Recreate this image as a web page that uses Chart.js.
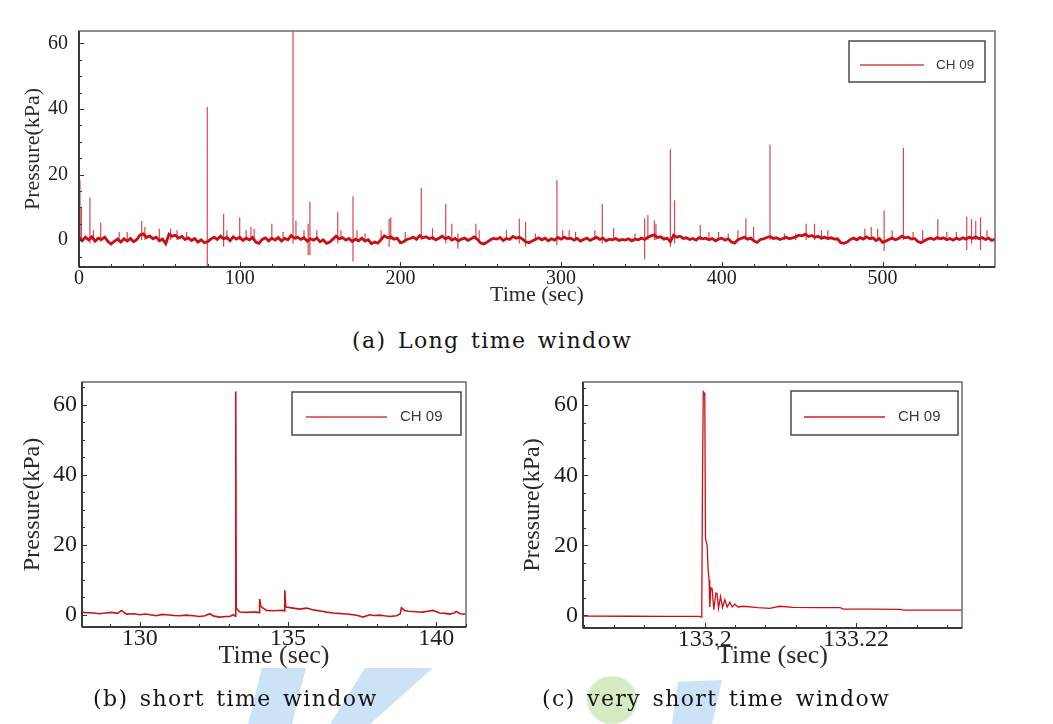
<!DOCTYPE html>
<html>
<head>
<meta charset="utf-8">
<script src="https://cdn.jsdelivr.net/npm/chart.js@4.4.1/dist/chart.umd.min.js"></script>
<style>
  body { margin: 0; background: #fff; width: 1053px; height: 724px; position: relative; overflow: hidden; }
  canvas { position: absolute; }
  .cap { position: absolute; font-family: "DejaVu Serif", serif; font-size: 22px; line-height: 30px; color: #151515; white-space: nowrap; letter-spacing: 1.4px; word-spacing: 3px; z-index: 2; }
  .wm { position: absolute; z-index: 1; }
</style>
</head>
<body>
<canvas id="chartLong" width="1053" height="320" style="left:0;top:0"></canvas>
<canvas id="chartShort" width="480" height="318" style="left:0;top:362px"></canvas>
<canvas id="chartVeryShort" width="480" height="318" style="left:500px;top:362px"></canvas>

<div class="wm" style="left:248px;top:668px;width:58px;height:56px;background:rgba(140,190,238,0.45);clip-path:polygon(24% 0,100% 0,76% 100%,0 100%)"></div>
<div class="wm" style="left:330px;top:668px;width:103px;height:56px;background:rgba(140,190,238,0.45);clip-path:polygon(34% 0,100% 0,39% 100%,0 100%)"></div>
<div class="wm" style="left:587px;top:676px;width:50px;height:48px;border-radius:50%;background:rgba(180,218,145,0.55)"></div>
<div class="wm" style="left:672px;top:680px;width:50px;height:44px;background:rgba(140,190,238,0.45);clip-path:polygon(12% 4%,100% 0,80% 100%,0 100%)"></div>

<div class="cap" style="left:352px;top:326px">(a) Long time window</div>
<div class="cap" style="left:93px;top:684px">(b) short time window</div>
<div class="cap" style="left:542px;top:684px">(c) very short time window</div>

<script>
// ---- (a) long time window: baseline sampled every 2 s from 0 s ----
const LONG_STEP = 2;
const longBaseline = [
  0.8, -0.2, 0.9, 0.1, 1.0, -0.3, 0.6, 0.2, 0.9, -0.4,
  -1.2, -0.4, 0.3, -0.6, 0.4, -0.3, 0.5, -0.5, 0.2, 1.6,
  1.9, 0.8, 1.3, 0.4, 0.9, -0.2, 0.3, -1.1, 1.8, 1.2,
  1.5, 0.6, 1.1, 0.2, 0.7, -0.1, 0.5, -0.6, 0.1, -0.8,
  -0.5, 0.3, 0.9, 0.2, 1.2, 0.4, 0.8, -0.2, 1.0, 0.3,
  0.9, -0.1, 0.6, 0.1, 0.8, -0.6, -1.0, 0.2, 0.7, -0.2,
  0.6, 0.0, 0.8, -0.3, 0.5, 0.1, 1.4, 0.6, 0.9, 0.2,
  0.7, -0.3, 0.4, 0.0, 0.6, -0.5, 0.1, -1.0, -0.6, 0.3,
  1.2, 0.4, 0.8, 0.0, 0.5, -0.4, 0.3, -0.2, 0.6, -0.3,
  0.1, -1.1, -0.6, -0.9, 0.2, 1.3, 0.7, 1.0, 0.3, 0.6,
  -0.8, -0.5, 0.2, 0.5, 0.9, 0.2, 1.4, 0.7, 1.0, 0.4,
  0.8, 0.1, 0.6, 1.2, 0.4, 0.9, 0.0, 0.5, -0.2, 0.3,
  0.6, -0.1, 0.4, 1.0, 0.2, -0.9, -1.2, -0.6, 0.1, 0.5,
  0.3, 0.8, -0.1, 0.5, 0.2, 1.1, 0.6, 0.9, 0.3, -0.5,
  -0.8, -0.3, 0.2, 0.7, 0.1, 0.6, -0.2, 0.4, 0.0, 0.8,
  0.3, 0.9, 0.4, 0.6, 0.0, 0.5, -0.3, 0.2, 0.6, -0.1,
  0.4, 0.9, 0.2, 0.6, -0.2, 0.3, 0.1, 0.5, -0.1, 0.2,
  0.0, 0.4, -0.2, 0.3, 0.1, 0.6, 0.2, 0.9, 1.3, 1.6,
  0.8, 1.0, 0.3, 0.6, -0.5, 1.5, 0.9, 1.2, 0.5, 0.7,
  0.2, 0.5, 0.0, 0.8, 0.4, 0.6, 0.1, 0.5, -0.2, 0.3,
  0.6, 0.0, 0.4, -0.6, -0.9, 0.1, 0.5, 0.9, 0.3, 0.6,
  -0.3, -0.7, 0.2, 0.4, 0.8, 1.1, 0.5, 0.7, 0.2, 0.5,
  0.9, 0.4, 0.7, 1.0, 1.5, 1.3, 1.8, 1.1, 1.4, 0.9,
  1.2, 0.6, 0.9, 0.5, 0.7, 0.3, 0.4, -0.8, -1.0, -0.6,
  0.2, 0.6, 0.1, 0.8, 0.3, 1.0, 0.4, 0.7, -0.1, 0.5,
  -0.7, -0.3, 0.2, 0.6, 0.1, 0.5, 1.2, 0.7, 0.9, 0.3,
  0.5, -0.4, -0.8, -0.2, 0.3, 0.6, 0.2, 0.8, 0.4, 0.7,
  0.1, 0.5, 0.0, 0.6, 0.2, 0.7, 0.3, 0.9, 0.5, 1.0,
  0.4, 0.8, 0.2, 0.6, -0.1, 0.3
];
// spikes: time (s), lowest value, highest value (kPa)
const spikeTimes = [0.6, 1.5, 6.8, 9, 13.5, 25, 30, 39, 41, 50, 57, 61, 67, 79.8, 90, 92, 100, 104, 107, 109, 120, 127,
  133.2, 135, 140, 142.6, 143.7, 148, 161, 163, 170.5, 173, 178, 188, 193, 194, 203, 213, 220, 228.2, 232, 235.8,
  247, 249, 266, 274, 277.9, 284, 297.4, 301, 305, 309, 321, 325.6, 332.7, 346, 352, 354, 358, 359, 368, 370.6,
  386.6, 392, 398, 404, 410, 415, 419.8, 430, 439, 446, 452.5, 457.7, 462, 466, 489, 493, 497, 501, 506, 513,
  519, 525, 534.4, 540, 546, 552.4, 555.4, 558, 561, 565];
const spikeLows = [0, 0, -1, 0, -0.5, 0, 0, 0, 0, 0, 0, 0, 0, -8.2, -2, 0, 0, 0, 0, 0, 0, 0,
  -1, 0, 0, -4.6, -4.6, 0, -1, 0, -6.5, 0, 0, 0, -2, 0, 0, 0, 0, -1, 0, -2.6,
  0, 0, 0, -1, -2, 0, -1.6, 0, 0, 0, 0, -1, 0, 0, -5.8, 0, 0, 0, -2, -1,
  0, 0, 0, 0, 0, 0, 0, 0, 0, 0, 0, 0, 0, 0, 0, 0, 0, -3.3, 0, 0,
  0, 0, 0, 0, 0, -3, -1, 0, -3, 0];
const spikeHighs = [18.3, 10, 13, 3, 5.3, 2.5, 2.5, 5.8, 4, 3.5, 3.5, 3, 2.5, 40.6, 8, 3, 7, 3, 4, 3.5, 5, 2.5,
  64, 6, 3, 5, 11.7, 3, 8.5, 3, 13.4, 3, 2, 3, 6.5, 7, 2.5, 16, 3.6, 11, 5, 2,
  5, 3, 3, 6.5, 5.5, 2, 18.3, 3, 3, 2.5, 3, 11, 3.6, 2, 6.6, 7.7, 6, 5, 27.7, 12.2,
  4.6, 2.5, 2.5, 2, 3, 6.7, 4, 29.2, 2, 2, 5, 5, 3, 3, 3.5, 4, 3.5, 9, 3, 28.1,
  2.5, 3, 6.4, 2.5, 2.5, 7.1, 6.4, 5.8, 7, 3];

// ---- (b) short time window ----
const shortTimes = [128.0, 128.2, 128.43, 128.65, 128.85, 129.05, 129.25, 129.38, 129.55, 129.8,
  130.0, 130.2, 130.34, 130.56, 130.75, 130.9, 131.15, 131.35, 131.57, 131.8,
  132.02, 132.2, 132.36, 132.5, 132.7, 132.9, 133.03, 133.15, 133.22, 133.235,
  133.25, 133.28, 133.37, 133.6, 133.8, 133.93, 134.03, 134.04, 134.08, 134.16,
  134.27, 134.49, 134.65, 134.83, 134.88, 134.89, 134.92, 134.94, 135.17, 135.39,
  135.62, 135.8, 135.96, 136.15, 136.29, 136.52, 136.7, 136.85, 137.0, 137.19,
  137.35, 137.53, 137.75, 137.9, 138.09, 138.25, 138.43, 138.65, 138.78, 138.82,
  138.93, 139.05, 139.21, 139.4, 139.55, 139.7, 139.89, 140.11, 140.3, 140.45,
  140.6, 140.67, 140.8, 140.98];
const shortValues = [0.76, 0.6, 0.48, 0.29, 0.5, 0.67, 0.4, 1.24, 0.19, 0.3,
  0.0, 0.2, 0.0, -0.29, 0.1, 0.0, -0.2, -0.29, -0.1, -0.3,
  -0.48, -0.3, 0.3, -0.4, -0.67, -0.5, -0.48, 0.0, -0.4, 63.8,
  2.0, 1.62, 0.76, 0.67, 0.8, 0.76, 0.6, 4.5, 2.4, 1.9,
  1.24, 1.14, 1.2, 1.24, 1.1, 7.0, 2.4, 2.19, 1.9, 1.62,
  1.9, 1.5, 1.24, 1.0, 0.76, 0.48, 0.4, 0.29, 0.2, 0.0,
  -0.2, -0.67, 0.0, -0.2, -0.1, -0.3, -0.48, -0.29, 0.2, 2.0,
  1.24, 1.0, 0.95, 0.8, 0.76, 1.0, 1.24, 0.48, 0.4, 0.19,
  0.5, 0.95, 0.3, 0.19];

// ---- (c) very short time window ----
const vShortTimes = [133.184, 133.19, 133.195, 133.1993, 133.1995, 133.1996, 133.1997, 133.1998, 133.1999, 133.2,
  133.20009, 133.20031, 133.20044, 133.20057, 133.20066, 133.2008, 133.20097, 133.20119, 133.20146, 133.20163,
  133.20181, 133.20208, 133.20234, 133.20265, 133.20296, 133.20331, 133.20362, 133.20397, 133.20441, 133.20508,
  133.207, 133.2086, 133.2099, 133.2117, 133.215, 133.2179, 133.2183, 133.222, 133.2258, 133.2263, 133.234];
const vShortValues = [-0.2, -0.25, -0.3, -0.3, -0.5, 0.5, 40, 63.8, 63.5, 62.5,
  22, 20, 13, 10, 2.4, 7.9, 7.6, 1.6, 6.4, 6.2,
  2.0, 5.4, 2.2, 4.5, 2.4, 3.8, 2.4, 3.2, 2.4, 2.6,
  2.2, 2.0, 2.6, 2.3, 2.2, 2.2, 1.8, 1.8, 1.7, 1.5, 1.5];

const LABEL = "CH 09";
const SERIF = "'Liberation Serif', 'Times New Roman', serif";

// frame around plot area with inward major / minor ticks
const framePlugin = {
  id: "frame",
  afterDatasetsDraw(chart, args, o) {
    const { ctx, chartArea: a, scales } = chart;
    ctx.save();
    ctx.strokeStyle = "#6c6c6c";
    ctx.lineWidth = 1.5;
    ctx.strokeRect(a.left, a.top, a.right - a.left, a.bottom - a.top);
    ctx.strokeStyle = "#3a3a3a";
    ctx.lineWidth = 2;
    ctx.beginPath();
    ctx.moveTo(a.left, a.bottom);
    ctx.lineTo(a.right, a.bottom);
    ctx.moveTo(a.left, a.top);
    ctx.lineTo(a.left, a.bottom);
    ctx.stroke();

    ctx.lineWidth = 1;
    ctx.strokeStyle = "#333";
    const marks = (scale, step, len, horizontal) => {
      const start = Math.ceil(scale.min / step - 1e-6);
      for (let k = start; k * step <= scale.max + step * 1e-6; k++) {
        const p = Math.round(scale.getPixelForValue(k * step)) + 0.5;
        ctx.beginPath();
        if (horizontal) {
          ctx.moveTo(p, a.bottom);
          ctx.lineTo(p, a.bottom - len);
        } else {
          ctx.moveTo(a.left, p);
          ctx.lineTo(a.left + len, p);
        }
        ctx.stroke();
      }
    };
    marks(scales.x, o.xMinor, o.minorLen, true);
    marks(scales.x, o.xMajor, o.majorLen, true);
    marks(scales.y, o.yMinor, o.minorLen, false);
    marks(scales.y, o.yMajor, o.majorLen, false);
    ctx.restore();
  },
};

// legend box drawn inside the plot area, top right
const insideLegend = {
  id: "insideLegend",
  afterDraw(chart, args, o) {
    const { ctx, chartArea: a } = chart;
    const x0 = a.right - o.right - o.width;
    const y0 = a.top + o.top;
    ctx.save();
    ctx.strokeStyle = "#4a4a4a";
    ctx.lineWidth = 1.5;
    ctx.strokeRect(x0, y0, o.width, o.height);
    const cy = y0 + o.lineY;
    ctx.strokeStyle = o.lineColor;
    ctx.lineWidth = 1.5;
    ctx.beginPath();
    ctx.moveTo(x0 + o.lineStart, cy);
    ctx.lineTo(x0 + o.lineEnd, cy);
    ctx.stroke();
    ctx.fillStyle = "#3b3b3b";
    ctx.font = o.font;
    ctx.textBaseline = "middle";
    ctx.fillText(chart.data.datasets[0].label, x0 + o.textX, cy);
    ctx.restore();
  },
};

function axisOptions(c) {
  return {
    x: {
      type: "linear",
      min: c.xMin,
      max: c.xMax,
      grid: { display: false, drawTicks: false },
      border: { display: false },
      afterFit: (s) => { s.height = c.xHeight; },
      ticks: {
        stepSize: c.xMajor,
        includeBounds: false,
        maxRotation: 0,
        autoSkip: false,
        padding: c.xPad,
        color: "#1e1e1e",
        font: { family: SERIF, size: c.tickSize },
        callback: (v) => String(parseFloat(v.toFixed(4))),
      },
      title: { display: true, text: "Time (sec)", color: "#2a2a2a", font: { family: SERIF, size: c.xTitleSize }, padding: { top: 0, bottom: c.xTitlePad } },
    },
    y: {
      min: c.yMin,
      max: c.yMax,
      grid: { display: false, drawTicks: false },
      border: { display: false },
      afterFit: (s) => { s.width = c.yWidth; },
      ticks: {
        stepSize: 20,
        includeBounds: false,
        padding: c.yPad,
        color: "#1e1e1e",
        font: { family: SERIF, size: c.tickSize },
      },
      title: { display: true, text: "Pressure(kPa)", color: "#2a2a2a", font: { family: SERIF, size: c.yTitleSize }, padding: { top: c.yTitlePad, bottom: 0 } },
    },
  };
}

function renderPressureChart(canvasId, datasets, c) {
  const canvas = document.getElementById(canvasId);
  if (!canvas) {
    console.warn(`Canvas '${canvasId}' not found.`);
    return null;
  }
  return new Chart(canvas.getContext("2d"), {
    type: "line",
    data: { datasets },
    options: {
      responsive: false,
      animation: false,
      devicePixelRatio: 1,
      parsing: false,
      normalized: true,
      layout: { padding: { top: c.padTop, right: c.padRight, left: 0, bottom: 0 } },
      elements: { point: { radius: 0 }, line: { tension: 0 } },
      scales: axisOptions(c),
      plugins: {
        legend: { display: false },
        tooltip: { enabled: false },
        frame: { xMajor: c.xMajor, xMinor: c.xMinor, yMajor: 20, yMinor: 5, majorLen: 5, minorLen: 3 },
        insideLegend: c.legend,
      },
    },
    plugins: [framePlugin, insideLegend],
  });
}

// (a)
const longPoints = longBaseline.map((v, i) => ({ x: i * LONG_STEP, y: v }));
const spikePoints = [];
spikeTimes.forEach((t, i) => {
  spikePoints.push({ x: t, y: spikeLows[i] }, { x: t, y: spikeHighs[i] }, { x: t, y: null });
});
renderPressureChart("chartLong", [
  { label: LABEL, data: longPoints, borderColor: "rgb(200,16,20)", borderWidth: 2.8, spanGaps: false },
  { label: "spikes", data: spikePoints, borderColor: "rgba(205,40,50,0.85)", borderWidth: 1.2, spanGaps: false },
], {
  xMin: 0, xMax: 570, xMajor: 100, xMinor: 20, yMin: -8.2, yMax: 63.8,
  padTop: 31, padRight: 58, yWidth: 79, xHeight: 53,
  tickSize: 20, xTitleSize: 22, yTitleSize: 22, xPad: 0, yPad: 11, xTitlePad: 12, yTitlePad: 20,
  legend: { right: 10, top: 10, width: 136, height: 41, lineY: 24, lineStart: 11, lineEnd: 75, textX: 87,
    lineColor: "rgb(205,70,80)", font: "13.5px 'Liberation Sans', Arial, sans-serif" },
});

// (b)
renderPressureChart("chartShort", [
  { label: LABEL, data: shortTimes.map((t, i) => ({ x: t, y: shortValues[i] })), borderColor: "rgb(200,20,28)", borderWidth: 1.6 },
], {
  xMin: 128.05, xMax: 141, xMajor: 5, xMinor: 1, yMin: -3.5, yMax: 66.5,
  padTop: 20, padRight: 14, yWidth: 82, xHeight: 53,
  tickSize: 24, xTitleSize: 26, yTitleSize: 24, xPad: -3, yPad: 5, xTitlePad: 8, yTitlePad: 18,
  legend: { right: 5, top: 10, width: 169, height: 43, lineY: 25, lineStart: 14, lineEnd: 95, textX: 108,
    lineColor: "rgb(205,60,70)", font: "15px 'Liberation Sans', Arial, sans-serif" },
});

// (c)
renderPressureChart("chartVeryShort", [
  { label: LABEL, data: vShortTimes.map((t, i) => ({ x: t, y: vShortValues[i] })), borderColor: "rgb(205,16,20)", borderWidth: 1.3 },
], {
  xMin: 133.1839, xMax: 133.234, xMajor: 0.02, xMinor: 0.004, yMin: -3.6, yMax: 66.6,
  padTop: 20, padRight: 18, yWidth: 83, xHeight: 52,
  tickSize: 24, xTitleSize: 26, yTitleSize: 24, xPad: -3, yPad: 5, xTitlePad: 8, yTitlePad: 18,
  legend: { right: 4, top: 9, width: 167, height: 44, lineY: 26, lineStart: 13, lineEnd: 94, textX: 107,
    lineColor: "rgb(205,30,40)", font: "15px 'Liberation Sans', Arial, sans-serif" },
});
</script>
</body>
</html>
